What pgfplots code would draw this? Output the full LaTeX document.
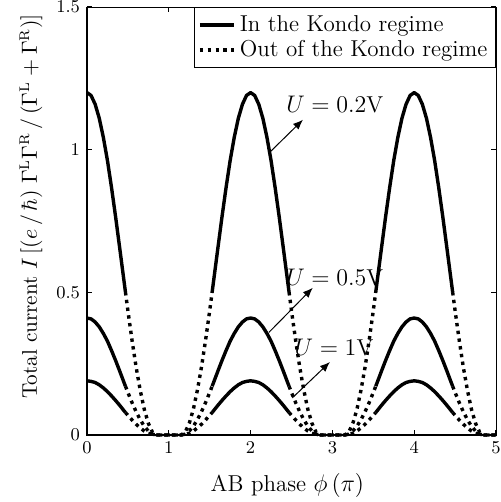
\documentclass[border=0pt]{standalone}
\usepackage{pgfplots}
\pgfplotsset{compat=1.18}
\usepackage{pgfplotstable}
\usetikzlibrary{arrows.meta}

% x, then solid / dotted part for U=0.2, 0.5, 1 V
\pgfplotstableread{
x     sA    dA    sB    dB    sC    dC
0.00  1.200 nan   0.410 nan   0.190 nan
0.05  1.190 nan   0.407 nan   0.188 nan
0.10  1.159 nan   0.396 nan   0.184 nan
0.15  1.110 nan   0.379 nan   0.176 nan
0.20  1.043 nan   0.356 nan   0.165 nan
0.25  0.962 nan   0.329 nan   0.152 nan
0.30  0.867 nan   0.296 nan   0.137 nan
0.35  0.764 nan   0.261 nan   0.121 nan
0.40  0.655 nan   0.224 nan   0.104 nan
0.45  0.545 nan   0.186 nan   0.086 nan
0.47  0.501 0.501 0.171 0.171 0.079 0.079
0.50  nan   0.436 nan   0.149 nan   0.069
0.55  nan   0.333 nan   0.114 nan   0.053
0.60  nan   0.239 nan   0.082 nan   0.038
0.65  nan   0.158 nan   0.054 nan   0.025
0.70  nan   0.090 nan   0.031 nan   0.014
0.75  nan   0.041 nan   0.014 nan   0.006
0.80  nan   0.010 nan   0.003 nan   0.002
0.85  nan   0.000 nan   0.000 nan   0.000
1.15  nan   0.000 nan   0.000 nan   0.000
1.20  nan   0.010 nan   0.003 nan   0.002
1.25  nan   0.041 nan   0.014 nan   0.006
1.30  nan   0.090 nan   0.031 nan   0.014
1.35  nan   0.158 nan   0.054 nan   0.025
1.40  nan   0.239 nan   0.082 nan   0.038
1.45  nan   0.333 nan   0.114 nan   0.053
1.50  nan   0.436 nan   0.149 nan   0.069
1.53  0.501 0.501 0.171 0.171 0.079 0.079
1.55  0.545 nan   0.186 nan   0.086 nan
1.60  0.655 nan   0.224 nan   0.104 nan
1.65  0.764 nan   0.261 nan   0.121 nan
1.70  0.867 nan   0.296 nan   0.137 nan
1.75  0.962 nan   0.329 nan   0.152 nan
1.80  1.043 nan   0.356 nan   0.165 nan
1.85  1.110 nan   0.379 nan   0.176 nan
1.90  1.159 nan   0.396 nan   0.184 nan
1.95  1.190 nan   0.407 nan   0.188 nan
2.00  1.200 nan   0.410 nan   0.190 nan
2.05  1.190 nan   0.407 nan   0.188 nan
2.10  1.159 nan   0.396 nan   0.184 nan
2.15  1.110 nan   0.379 nan   0.176 nan
2.20  1.043 nan   0.356 nan   0.165 nan
2.25  0.962 nan   0.329 nan   0.152 nan
2.30  0.867 nan   0.296 nan   0.137 nan
2.35  0.764 nan   0.261 nan   0.121 nan
2.40  0.655 nan   0.224 nan   0.104 nan
2.45  0.545 nan   0.186 nan   0.086 nan
2.47  0.501 0.501 0.171 0.171 0.079 0.079
2.50  nan   0.436 nan   0.149 nan   0.069
2.55  nan   0.333 nan   0.114 nan   0.053
2.60  nan   0.239 nan   0.082 nan   0.038
2.65  nan   0.158 nan   0.054 nan   0.025
2.70  nan   0.090 nan   0.031 nan   0.014
2.75  nan   0.041 nan   0.014 nan   0.006
2.80  nan   0.010 nan   0.003 nan   0.002
2.85  nan   0.000 nan   0.000 nan   0.000
3.15  nan   0.000 nan   0.000 nan   0.000
3.20  nan   0.010 nan   0.003 nan   0.002
3.25  nan   0.041 nan   0.014 nan   0.006
3.30  nan   0.090 nan   0.031 nan   0.014
3.35  nan   0.158 nan   0.054 nan   0.025
3.40  nan   0.239 nan   0.082 nan   0.038
3.45  nan   0.333 nan   0.114 nan   0.053
3.50  nan   0.436 nan   0.149 nan   0.069
3.53  0.501 0.501 0.171 0.171 0.079 0.079
3.55  0.545 nan   0.186 nan   0.086 nan
3.60  0.655 nan   0.224 nan   0.104 nan
3.65  0.764 nan   0.261 nan   0.121 nan
3.70  0.867 nan   0.296 nan   0.137 nan
3.75  0.962 nan   0.329 nan   0.152 nan
3.80  1.043 nan   0.356 nan   0.165 nan
3.85  1.110 nan   0.379 nan   0.176 nan
3.90  1.159 nan   0.396 nan   0.184 nan
3.95  1.190 nan   0.407 nan   0.188 nan
4.00  1.200 nan   0.410 nan   0.190 nan
4.05  1.190 nan   0.407 nan   0.188 nan
4.10  1.159 nan   0.396 nan   0.184 nan
4.15  1.110 nan   0.379 nan   0.176 nan
4.20  1.043 nan   0.356 nan   0.165 nan
4.25  0.962 nan   0.329 nan   0.152 nan
4.30  0.867 nan   0.296 nan   0.137 nan
4.35  0.764 nan   0.261 nan   0.121 nan
4.40  0.655 nan   0.224 nan   0.104 nan
4.45  0.545 nan   0.186 nan   0.086 nan
4.47  0.501 0.501 0.171 0.171 0.079 0.079
4.50  nan   0.436 nan   0.149 nan   0.069
4.55  nan   0.333 nan   0.114 nan   0.053
4.60  nan   0.239 nan   0.082 nan   0.038
4.65  nan   0.158 nan   0.054 nan   0.025
4.70  nan   0.090 nan   0.031 nan   0.014
4.75  nan   0.041 nan   0.014 nan   0.006
4.80  nan   0.010 nan   0.003 nan   0.002
4.85  nan   0.000 nan   0.000 nan   0.000
5.00  nan   0.000 nan   0.000 nan   0.000
}\current

\tikzset{
  kondo/.style={black, line width=1.7pt, line join=round},
  nokondo/.style={black, line width=1.7pt, line cap=butt, dash pattern=on 1.7pt off 2.2pt},
}

\begin{document}
\begin{tikzpicture}
\begin{axis}[
    width=204.5pt, height=214pt, scale only axis,
    xmin=0, xmax=5, ymin=0, ymax=1.5,
    xtick={0,1,2,3,4,5},
    ytick={0,0.5,1,1.5},
    tick align=inside,
    major tick length=2.5pt,
    axis line style={line width=0.5pt},
    tick style={line width=0.6pt, black},
    ticklabel style={font=\fontsize{9.5}{11}\selectfont},
    xlabel={AB phase $\phi\,(\pi)$},
    ylabel={Total current $I\,[(e\,/\,\hbar)\;\Gamma^{\mathrm{L}}\Gamma^{\mathrm{R}}\,/\,(\Gamma^{\mathrm{L}}+\Gamma^{\mathrm{R}})]$},
    label style={font=\fontsize{11.5}{13}\selectfont},
    xlabel style={at={(rel axis cs:0.49,-0.117)}, anchor=center},
    ylabel style={at={(rel axis cs:-0.137,0.534)}, anchor=center, font=\fontsize{10.6}{12}\selectfont},
    unbounded coords=jump,
    clip=false,
    legend style={at={(rel axis cs:1,1)}, anchor=north east, draw=black, line width=0.5pt,
      font=\fontsize{11.5}{13}\selectfont, row sep=-1pt, inner sep=2pt},
    legend cell align=left,
]
\addlegendimage{kondo}
\addlegendentry{In the Kondo regime}
\addlegendimage{nokondo}
\addlegendentry{Out of the Kondo regime}

\addplot[kondo, forget plot] table[x=x, y=sA] {\current};
\addplot[nokondo, forget plot] table[x=x, y=dA] {\current};
\addplot[kondo, forget plot] table[x=x, y=sB] {\current};
\addplot[nokondo, forget plot] table[x=x, y=dB] {\current};
\addplot[kondo, forget plot] table[x=x, y=sC] {\current};
\addplot[nokondo, forget plot] table[x=x, y=dC] {\current};

% thick left and bottom frame
\draw[line width=1.3pt] (rel axis cs:0,1) -- (rel axis cs:0,0) -- (rel axis cs:1,0);

% annotations
\draw[line width=0.5pt, -{Latex[length=5pt,width=4pt]}] (axis cs:2.245,0.994) -- (axis cs:2.64,1.105);
\node[font=\fontsize{11.5}{13}\selectfont] at (axis cs:3.03,1.158) {$U=0.2$V};
\draw[line width=0.5pt, -{Latex[length=5pt,width=4pt]}] (axis cs:2.225,0.36) -- (axis cs:2.76,0.516);
\node[font=\fontsize{11.5}{13}\selectfont] at (axis cs:3.03,0.551) {$U=0.5$V};
\draw[line width=0.5pt, -{Latex[length=5pt,width=4pt]}] (axis cs:2.51,0.13) -- (axis cs:2.97,0.256);
\node[font=\fontsize{11.5}{13}\selectfont] at (axis cs:3.02,0.305) {$U=1$V};

% page extent
\coordinate (pagebl) at (rel axis cs:-0.2127,-0.1565);
\coordinate (pagetr) at (rel axis cs:1.0122,1.0164);
\end{axis}
\pgfresetboundingbox
\path (pagebl) rectangle (pagetr);
\end{tikzpicture}
\end{document}
